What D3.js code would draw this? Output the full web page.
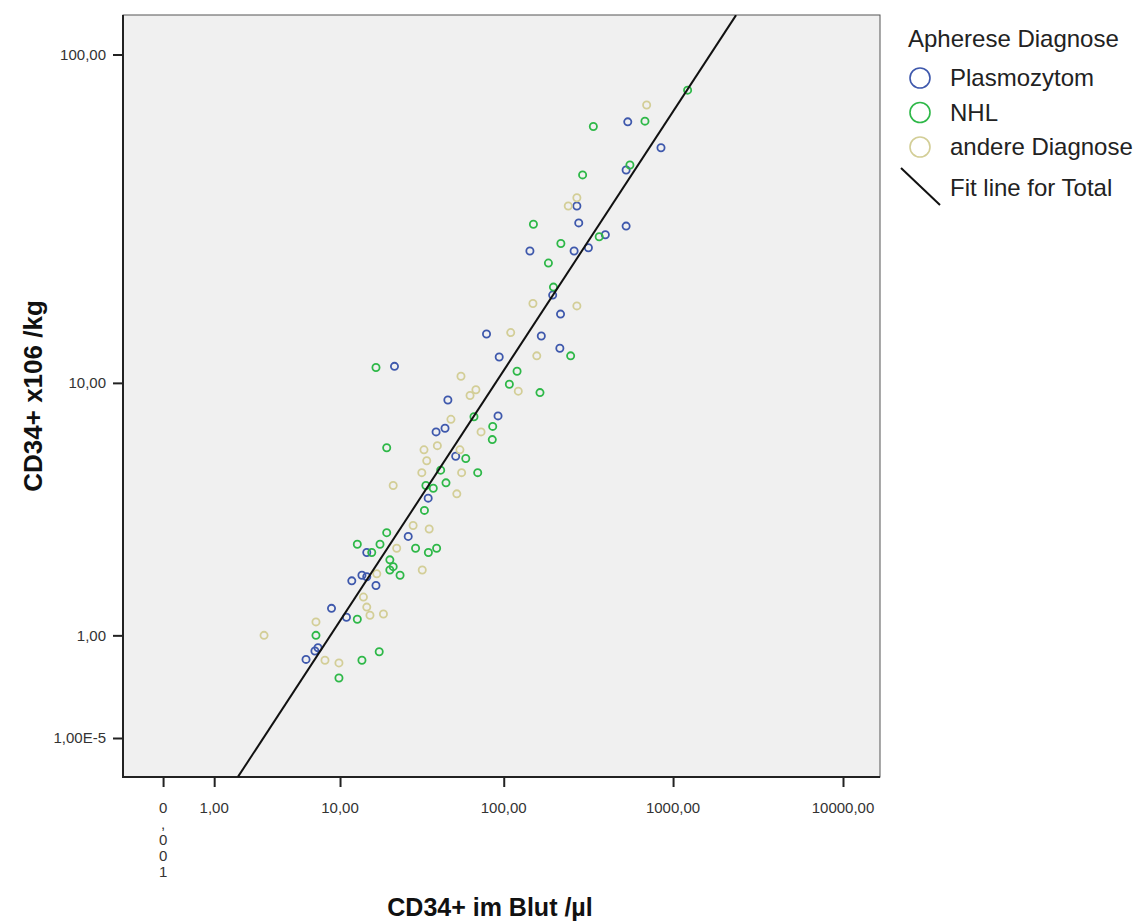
<!DOCTYPE html>
<html>
<head>
<meta charset="utf-8">
<script src="https://cdn.jsdelivr.net/npm/d3@7"></script>
<style>
  html, body { margin: 0; padding: 0; background: #ffffff; }
  svg { display: block; }
</style>
</head>
<body>
<svg id="chart" width="1142" height="924"></svg>
<script>
// ---------------- DATA ----------------
const categories = ["Plasmozytom", "NHL", "andere Diagnose"];
const legendTitle = "Apherese Diagnose";
const fitLabel = "Fit line for Total";
const xTitle = "CD34+ im Blut /µl";
const yTitle = "CD34+ x106 /kg";

// [CD34+ im Blut /µl, CD34+ x106 /kg]
const plasmozytom = [[541,63.1],[849,52.8],[529,45.3],[271,35.3],[278,31.4],[529,30.7],[399,28.9],[317,26.4],[261,25.8],[143,25.8],[195,18.9],[217,16.5],[79,14.3],[167,14.1],[215,12.9],[94,12.1],[22,11.3],[46.4,8.8],[92.5,7.8],[39.4,6.9],[44.6,7.1],[51.7,5.7],[35.3,4.05],[26.7,2.9],[14.8,2.5],[13.8,2.0],[14.8,1.97],[11.9,1.89],[16.9,1.8],[8.8,1.4],[11.0,1.26],[6.83,0.8],[5.94,0.7],[7.16,0.84]];
const nhl = [[1218,78.4],[683,63.4],[339,61.1],[557,46.9],[293,43.8],[150,31.1],[218,27.2],[367,28.5],[184,23.7],[197,20.0],[249,12.2],[120,10.9],[108,9.9],[164,9.3],[16.9,11.2],[66.5,7.75],[86,7.2],[85.5,6.5],[19.7,6.1],[59.4,5.6],[70,5.0],[42,5.1],[45.2,4.6],[34.2,4.5],[37.9,4.4],[33.5,3.65],[19.7,3.0],[12.9,2.7],[17.9,2.7],[15.9,2.5],[29.6,2.6],[35.4,2.5],[39.7,2.6],[20.6,2.33],[21.6,2.18],[20.6,2.11],[23.8,2.0],[12.9,1.23],[6.94,1.0],[13.8,0.69],[17.7,0.79],[9.84,0.5]];
const andere = [[699,70.8],[271,37.4],[241,35.3],[149,17.8],[271,17.5],[110,14.45],[157,12.2],[55.6,10.5],[122,9.4],[68.3,9.5],[63,9.1],[48.4,7.6],[73.3,6.9],[40.1,6.2],[33.3,6.0],[54.8,6.0],[34.6,5.5],[32.3,5.0],[56.1,5.0],[21.6,4.5],[52.5,4.2],[28.6,3.2],[35.8,3.1],[32.5,2.11],[22.7,2.6],[17.1,2.03],[14.1,1.59],[14.8,1.42],[15.5,1.29],[18.8,1.31],[6.94,1.19],[7.97,0.69],[9.84,0.66],[2.93,1.0]];

// Fit line for Total (two end points)
const fitLine = [[1.76, -0.30], [2349, 130.8]];

const xTickValues = [0.001, 1, 10, 100, 1000, 10000];
const xTickLabels = ["0,001", "1,00", "10,00", "100,00", "1000,00", "10000,00"];
const yTickValues = [0.00001, 1, 10, 100];
const yTickLabels = ["1,00E-5", "1,00", "10,00", "100,00"];

// ---------------- STYLE / LAYOUT ----------------
const seriesColors = ["#3E58AC", "#2EB848", "#D3CE97"];
const plot = { left: 123, right: 880, top: 15, bottom: 777 };
const tickFont = "'Liberation Sans Narrow', 'Arial Narrow', 'Liberation Sans', Arial, sans-serif";
const mainFont = "'Liberation Sans', Arial, sans-serif";

const svg = d3.select("#chart");

// safe-log style scales (log10(v+1))
const x = d3.scaleSymlog().constant(1).domain([0, 10000]).range([163, 843]);
const y = d3.scaleSymlog().constant(1).domain([0, 100]).range([738, 54.5]);

// plot background
svg.append("rect")
  .attr("x", plot.left).attr("y", plot.top)
  .attr("width", plot.right - plot.left).attr("height", plot.bottom - plot.top)
  .attr("fill", "#F0F0F0")
  .attr("stroke", "#555").attr("stroke-width", 1);

svg.append("defs").append("clipPath").attr("id", "plotclip")
  .append("rect")
  .attr("x", plot.left).attr("y", plot.top)
  .attr("width", plot.right - plot.left).attr("height", plot.bottom - plot.top);

// axes
const xAxis = d3.axisBottom(x).tickValues(xTickValues).tickSize(10).tickFormat("");
const yAxis = d3.axisLeft(y).tickValues(yTickValues).tickSize(10).tickFormat("");

const gx = svg.append("g").attr("transform", `translate(0,${plot.bottom})`).call(xAxis);
gx.select(".domain").remove();
gx.selectAll(".tick line").attr("stroke", "#222").attr("stroke-width", 2);

const gy = svg.append("g").attr("transform", `translate(${plot.left},0)`).call(yAxis);
gy.select(".domain").remove();
gy.selectAll(".tick line").attr("stroke", "#222").attr("stroke-width", 2);

// axis lines
svg.append("line").attr("x1", plot.left).attr("x2", plot.left)
  .attr("y1", plot.top).attr("y2", plot.bottom + 1)
  .attr("stroke", "#222").attr("stroke-width", 2);
svg.append("line").attr("x1", plot.left - 1).attr("x2", plot.right)
  .attr("y1", plot.bottom).attr("y2", plot.bottom)
  .attr("stroke", "#222").attr("stroke-width", 2);

// x tick labels
xTickValues.forEach((v, i) => {
  const lab = xTickLabels[i];
  const t = svg.append("text")
    .attr("x", x(v)).attr("y", 813)
    .attr("text-anchor", "middle")
    .attr("font-family", tickFont).attr("font-size", 15)
    .attr("fill", "#333");
  if (i === 0) {
    // narrow label wrapped one character per line
    lab.split("").forEach((ch, k) => {
      t.append("tspan").attr("x", x(v)).attr("dy", k === 0 ? 0 : 16).text(ch);
    });
  } else {
    t.text(lab);
  }
});

// y tick labels
yTickValues.forEach((v, i) => {
  svg.append("text")
    .attr("x", 106).attr("y", y(v))
    .attr("dy", "0.36em")
    .attr("text-anchor", "end")
    .attr("font-family", tickFont).attr("font-size", 15)
    .attr("fill", "#333")
    .text(yTickLabels[i]);
});

// axis titles
svg.append("text")
  .attr("x", 490).attr("y", 916)
  .attr("text-anchor", "middle")
  .attr("font-family", mainFont).attr("font-weight", "bold").attr("font-size", 25)
  .attr("fill", "#111")
  .text(xTitle);

svg.append("text")
  .attr("transform", `translate(42,396) rotate(-90)`)
  .attr("text-anchor", "middle")
  .attr("font-family", mainFont).attr("font-weight", "bold").attr("font-size", 26)
  .attr("fill", "#111")
  .text(yTitle);

// data points
const gPts = svg.append("g").attr("clip-path", "url(#plotclip)");
[plasmozytom, nhl, andere].forEach((series, si) => {
  gPts.append("g").selectAll("circle")
    .data(series)
    .join("circle")
    .attr("cx", d => x(d[0]))
    .attr("cy", d => y(d[1]))
    .attr("r", 3.6)
    .attr("fill", "none")
    .attr("stroke", seriesColors[si])
    .attr("stroke-width", 1.8);
});

// fit line
svg.append("g").attr("clip-path", "url(#plotclip)")
  .append("path")
  .datum(fitLine)
  .attr("d", d3.line().x(d => x(d[0])).y(d => y(d[1])))
  .attr("fill", "none")
  .attr("stroke", "#111")
  .attr("stroke-width", 2);

// legend
const lg = svg.append("g");
lg.append("text")
  .attr("x", 908).attr("y", 47)
  .attr("font-family", mainFont).attr("font-size", 24)
  .attr("fill", "#222")
  .text(legendTitle);

categories.forEach((c, i) => {
  const cy = 78 + i * 34.5;
  lg.append("circle")
    .attr("cx", 920).attr("cy", cy).attr("r", 10)
    .attr("fill", "none").attr("stroke", seriesColors[i]).attr("stroke-width", 1.6);
  lg.append("text")
    .attr("x", 950).attr("y", cy + 8)
    .attr("font-family", mainFont).attr("font-size", 24)
    .attr("fill", "#222")
    .text(c);
});
lg.append("line")
  .attr("x1", 901).attr("y1", 168).attr("x2", 940).attr("y2", 205)
  .attr("stroke", "#111").attr("stroke-width", 2);
lg.append("text")
  .attr("x", 950).attr("y", 196)
  .attr("font-family", mainFont).attr("font-size", 24)
  .attr("fill", "#222")
  .text(fitLabel);
</script>
</body>
</html>
